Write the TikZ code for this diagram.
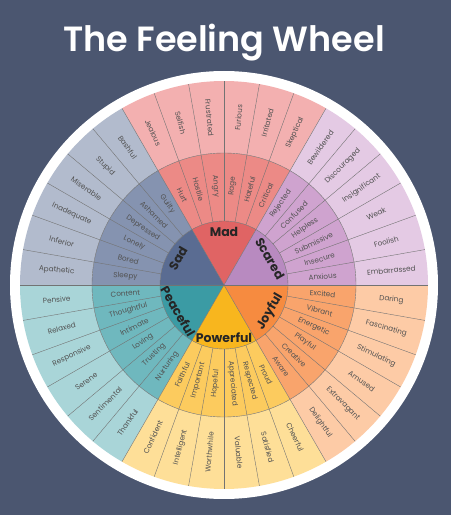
\documentclass[tikz,border=0pt]{standalone}
\usepackage{fontspec}
\setmainfont{Poppins}
\newfontfamily\titlefont{Poppins SemiBold}
\definecolor{bg}{HTML}{4B5670}
\definecolor{mad}{HTML}{E06464}    \definecolor{madmid}{HTML}{EC8A86}    \definecolor{madout}{HTML}{F3B0B0}
\definecolor{scared}{HTML}{B88AC0} \definecolor{scaredmid}{HTML}{CFA3CF} \definecolor{scaredout}{HTML}{E4CAE4}
\definecolor{joyful}{HTML}{F68B40} \definecolor{joyfulmid}{HTML}{F9A46C} \definecolor{joyfulout}{HTML}{FDCBA6}
\definecolor{powerful}{HTML}{F8B61E} \definecolor{powerfulmid}{HTML}{FCCB5E} \definecolor{powerfulout}{HTML}{FEDF98}
\definecolor{peaceful}{HTML}{3B9BA4} \definecolor{peacefulmid}{HTML}{6FB8BE} \definecolor{peacefulout}{HTML}{A9D5D8}
\definecolor{sad}{HTML}{5A6C92}    \definecolor{sadmid}{HTML}{8593B0}    \definecolor{sadout}{HTML}{B2BBCD}
\tikzset{
  divider/.style={draw=black!55, line width=0.4pt},
  ringtext/.style={font=\fontsize{7.3}{8}\selectfont, text=black!68, inner sep=0pt},
  coretext/.style={font=\bfseries\fontsize{12.5}{13}\selectfont, text=black!85, inner sep=0pt},
}
\begin{document}
\begin{tikzpicture}[x=1pt, y=1pt]
    \fill [bg] (0, 0) rectangle (451, 515);
    \useasboundingbox (0, 0) rectangle (451, 515);
    \node [white, anchor=base, font=\titlefont\fontsize{35}{40}\selectfont] (title) at (224, 463) {The Feeling Wheel};

    \begin{scope}[shift={(224, 230)}]
      \fill [white] (0, 0) circle (214);
      \foreach \a/\name/\feel in {
          60/mad/{{Critical,Hateful,Rage,Angry,Hostile,Hurt}/{Skeptical,Irritated,Furious,Frustrated,Selfish,Jealous}/Mad},
          120/sad/{{Guilty,Ashamed,Depressed,Lonely,Bored,Sleepy}/{Bashful,Stupid,Miserable,Inadequate,Inferior,Apathetic}/Sad},
          180/peaceful/{{Content,Thoughtful,Intimate,Loving,Trusting,Nurturing}/{Pensive,Relaxed,Responsive,Serene,Sentimental,Thankful}/Peaceful},
          240/powerful/{{Faithful,Important,Hopeful,Appreciated,Respected,Proud}/{Confident,Intelligent,Worthwhile,Valuable,Satisfied,Cheerful}/Powerful},
          300/joyful/{{Aware,Creative,Playful,Energetic,Vibrant,Excited}/{Delightful,Extravagant,Amused,Stimulating,Fascinating,Daring}/Joyful},
          0/scared/{{Anxious,Insecure,Submissive,Helpless,Confused,Rejected}/{Embarrassed,Foolish,Weak,Insignificant,Discouraged,Bewildered}/Scared}} {
        \pgfmathsetmacro\b{\a + 60}
        \fill [\name out] (\a:132) arc [start angle=\a, end angle=\b, radius=132]
          -- (\b:204) arc [start angle=\b, end angle=\a, radius=204] -- cycle;
        \fill [\name mid] (\a:64) arc [start angle=\a, end angle=\b, radius=64]
          -- (\b:132) arc [start angle=\b, end angle=\a, radius=132] -- cycle;
        \fill [\name] (0, 0) -- (\a:64) arc [start angle=\a, end angle=\b, radius=64] -- cycle;
        \foreach \mids/\outs/\core in \feel {
          \foreach \w [count=\i] in \mids {
            \pgfmathsetmacro\t{\a + (\i - 0.5) * 10}
            \pgfmathsetmacro\rot{ifthenelse(and(\t > 90, \t < 270), \t - 180, \t)}
            \node [ringtext, rotate=\rot] (mid-\name-\i) at (\t:99) {\w};
          }
          \foreach \w [count=\i] in \outs {
            \pgfmathsetmacro\t{\a + (\i - 0.5) * 10}
            \pgfmathsetmacro\rot{ifthenelse(and(\t > 90, \t < 270), \t - 180, \t)}
            \node [ringtext, rotate=\rot] (out-\name-\i) at (\t:168) {\w};
          }
          \pgfmathsetmacro\t{\a + 30}
          \pgfmathsetmacro\rot{ifthenelse(\t < 180, \t - 90, \t + 90)}
          \node [coretext, rotate=\rot] (core-\name) at (\t:53) {\core};
        }
      }
      \foreach \t in {0, 10, ..., 350} {
        \draw [divider] (\t:64) -- (\t:204);
      }
      \foreach \t in {0, 60, ..., 300} {
        \draw [divider] (0, 0) -- (\t:64);
      }
      \draw [divider] (0, 0) circle (64);
      \draw [divider] (0, 0) circle (132);
    \end{scope}
\end{tikzpicture}
\end{document}
